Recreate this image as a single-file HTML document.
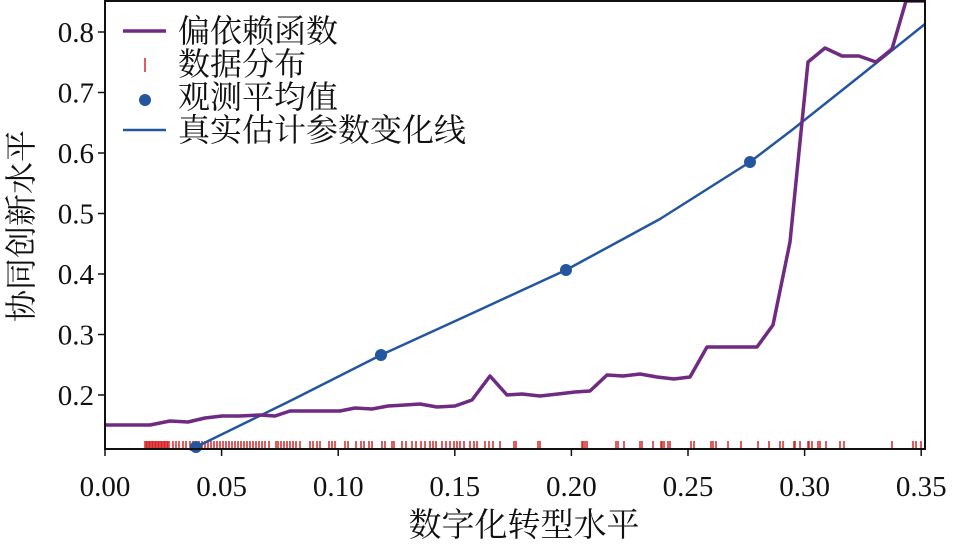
<!DOCTYPE html>
<html><head><meta charset="utf-8"><style>
body{margin:0;background:#fff;}
svg text{font-family:"Liberation Serif","Noto Serif CJK SC",serif;fill:#111;}
</style></head><body>
<svg id="s" width="954" height="547" viewBox="0 0 954 547" xmlns="http://www.w3.org/2000/svg">
<g id="rug" stroke="#d62728" stroke-width="1.5"></g>
<polyline fill="none" stroke="#2456a0" stroke-width="2.5" stroke-linejoin="round" points="190,450 196,447 290,401 381,355 475,312 566,270 660,219 750,162 792,130 860,76 925,24"/>
<g fill="#2456a0"><circle cx="196" cy="447" r="6"/><circle cx="381" cy="355" r="6"/><circle cx="566" cy="270" r="6"/><circle cx="750" cy="162" r="6"/></g>
<polyline fill="none" stroke="#6f2a82" stroke-width="3.5" stroke-linejoin="round" points="105,425 150,425 170,421 188,422 205,418 222,416 240,416 260,415 275,416 290,411 305,411 322,411 340,411 355,408 372,409 388,406 405,405 420,404 437,407 455,406 472,400 490,376 507,395 522,394 540,396 558,394 575,392 590,391 607,375 623,376 640,374 657,377 674,379 690,377 707,347 724,347 740,347 757,347 773,325 790,242 808,62 825,48 842,56 859,56 876,62 892,49 906,1 925,1"/>
<rect x="105" y="1" width="820" height="448" fill="none" stroke="#111" stroke-width="2"/>
<g stroke="#111" stroke-width="1.5" id="ticks"></g>
<g font-size="29" id="labels"></g>
<g font-size="32">
<line x1="123" y1="31" x2="166" y2="31" stroke="#6f2a82" stroke-width="3.5"/>
<text x="178" y="42">偏依赖函数</text>
<line x1="145" y1="58" x2="145" y2="72" stroke="#d62728" stroke-width="1.5"/>
<text x="178" y="75">数据分布</text>
<circle cx="145" cy="100" r="6" fill="#2456a0"/>
<text x="178" y="108">观测平均值</text>
<line x1="123" y1="130" x2="166" y2="130" stroke="#2456a0" stroke-width="2.5"/>
<text x="178" y="141">真实估计参数变化线</text>
</g>
<text x="524" y="536" font-size="33" text-anchor="middle">数字化转型水平</text>
<text transform="translate(32,226) rotate(-90)" font-size="32" text-anchor="middle">协同创新水平</text>
</svg>
<script>
var ns="http://www.w3.org/2000/svg";
function el(t,a,p){var e=document.createElementNS(ns,t);for(var k in a)e.setAttribute(k,a[k]);document.getElementById(p).appendChild(e);return e;}
var xs=[];for(var x=145;x<=169;x+=1.5)xs.push(x);
xs=xs.concat([173,176,179,183,186,190,193,196,199,202,205,208,211,214,217,220,223,226,229,232,235,238,241,244,247,250,253,256,259,262,265,269,276,278,281,284,287,290,293,296,300,310,313,317,320,329,332,335,345,348,356,361,364,369,372,382,385,392,394,402,406,412,416,421,425,430,433,436,442,446,450,454,457,460,464,470,474,477,485,489,493,500,514,516,538,540,582,583,585,587,616,618,624,640,642,653,661,662,664,668,670,691,694,711,713,716,728,741,758,769,780,783,794,795,800,808,809,812,818,820,826,840,844,892,913,916,921]);
xs.forEach(function(x){el("line",{x1:x,x2:x,y1:441,y2:449},"rug");});
for(var i=0;i<=7;i++){var x=105+i*116.6;el("line",{x1:x,x2:x,y1:449,y2:456},"ticks");
var t=el("text",{x:x,y:496,"text-anchor":"middle"},"labels");t.textContent=(i*0.05).toFixed(2);}
for(var v=2;v<=8;v++){var y=32+(8-v)*60.5;el("line",{x1:98,x2:105,y1:y,y2:y},"ticks");
var t=el("text",{x:94,y:y+10,"text-anchor":"end"},"labels");t.textContent="0."+v;}
</script>
</body></html>
